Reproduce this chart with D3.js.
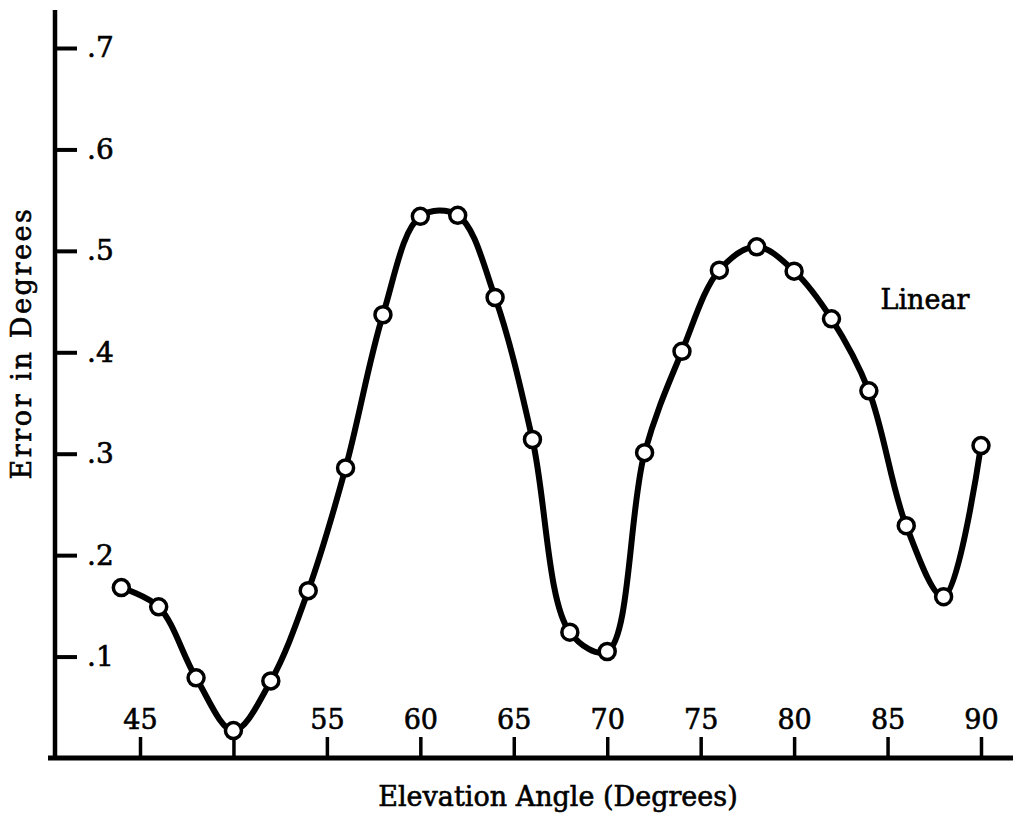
<!DOCTYPE html>
<html>
<head>
<meta charset="utf-8">
<script src="https://cdn.jsdelivr.net/npm/d3@7"></script>
<style>
  body { margin: 0; background: #fff; }
  svg { display: block; }
  text { font-family: "DejaVu Serif", "Liberation Serif", serif; fill: #000; stroke: #000; stroke-width: 0.6px; }
</style>
</head>
<body>
<div id="vis-container"></div>
<script>
// data (error vs elevation angle, every 2 degrees)
const angles = [44, 46, 48, 50, 52, 54, 56, 58, 60, 62, 64, 66, 68, 70, 72, 74, 76, 78, 80, 82, 84, 86, 88, 90];
const errors = [0.168, 0.149, 0.079, 0.027, 0.076, 0.165, 0.286, 0.437, 0.534, 0.535, 0.454, 0.314,
                0.124, 0.105, 0.301, 0.401, 0.481, 0.504, 0.480, 0.433, 0.362, 0.229, 0.159, 0.308];
const xTicks = [45, 50, 55, 60, 65, 70, 75, 80, 85, 90];
const xTickLabels = ["45", "", "55", "60", "65", "70", "75", "80", "85", "90"];
const yTicks = [0.1, 0.2, 0.3, 0.4, 0.5, 0.6, 0.7];
const yTickLabels = [".1", ".2", ".3", ".4", ".5", ".6", ".7"];
const seriesLabel = "Linear";

const width = 1013;
const height = 814;
const axisX = 55;      // vertical axis line
const axisY = 758;     // horizontal axis line

const svg = d3.select("#vis-container")
              .append("svg")
              .attr("width", width)
              .attr("height", height)
              .attr("viewBox", [0, 0, width, height]);

const x = d3.scaleLinear()
            .domain([45, 90])
            .range([140, 981]);

const y = d3.scaleLinear()
            .domain([0, 0.7])
            .range([axisY, 48]);

// axis lines
svg.append("line")
   .attr("x1", axisX).attr("x2", axisX)
   .attr("y1", 10).attr("y2", axisY + 2)
   .attr("stroke", "#000").attr("stroke-width", 4.5);

svg.append("line")
   .attr("x1", axisX - 7).attr("x2", width)
   .attr("y1", axisY).attr("y2", axisY)
   .attr("stroke", "#000").attr("stroke-width", 5);

// y ticks point inward (to the right)
svg.append("g")
   .attr("transform", `translate(${axisX},0)`)
   .call(d3.axisRight(y)
           .tickValues(yTicks)
           .tickSize(22)
           .tickPadding(10)
           .tickFormat((d, i) => yTickLabels[i]))
   .call(g => g.select(".domain").remove())
   .call(g => g.selectAll(".tick line").attr("stroke", "#000").attr("stroke-width", 4))
   .call(g => g.selectAll(".tick text")
               .attr("font-family", "DejaVu Serif")
               .attr("font-size", "28px")
               .attr("fill", "#000"));

// x ticks point up, labels above them
svg.append("g")
   .attr("transform", `translate(0,${axisY})`)
   .call(d3.axisTop(x)
           .tickValues(xTicks)
           .tickSize(21)
           .tickPadding(8)
           .tickFormat((d, i) => xTickLabels[i]))
   .call(g => g.select(".domain").remove())
   .call(g => g.selectAll(".tick line").attr("stroke", "#000").attr("stroke-width", 3.5))
   .call(g => g.selectAll(".tick text")
               .attr("font-family", "DejaVu Serif")
               .attr("font-size", "27px")
               .attr("fill", "#000"));

// axis titles
svg.append("text")
   .attr("x", 558)
   .attr("y", 806)
   .attr("text-anchor", "middle")
   .attr("font-size", "27px")
   .text("Elevation Angle (Degrees)");

svg.append("text")
   .attr("transform", "translate(31,343) rotate(-90)")
   .attr("text-anchor", "middle")
   .attr("font-size", "27px")
   .attr("letter-spacing", "2.6px")
   .text("Error in Degrees");

// series label
svg.append("text")
   .attr("x", 925)
   .attr("y", 309)
   .attr("text-anchor", "middle")
   .attr("font-size", "27px")
   .text(seriesLabel);

// curve + points
const points = angles.map((a, i) => ({ angle: a, err: errors[i] }));

const line = d3.line()
               .x(d => x(d.angle))
               .y(d => y(d.err))
               .curve(d3.curveCatmullRom.alpha(0.5));

svg.append("path")
   .datum(points)
   .attr("d", line)
   .attr("fill", "none")
   .attr("stroke", "#000")
   .attr("stroke-width", 6)
   .attr("stroke-linejoin", "round")
   .attr("stroke-linecap", "round");

svg.selectAll("circle")
   .data(points)
   .enter()
     .append("circle")
     .attr("cx", d => x(d.angle))
     .attr("cy", d => y(d.err))
     .attr("r", 8)
     .style("fill", "#fff")
     .style("stroke", "#000")
     .style("stroke-width", 3.5);
</script>
</body>
</html>
